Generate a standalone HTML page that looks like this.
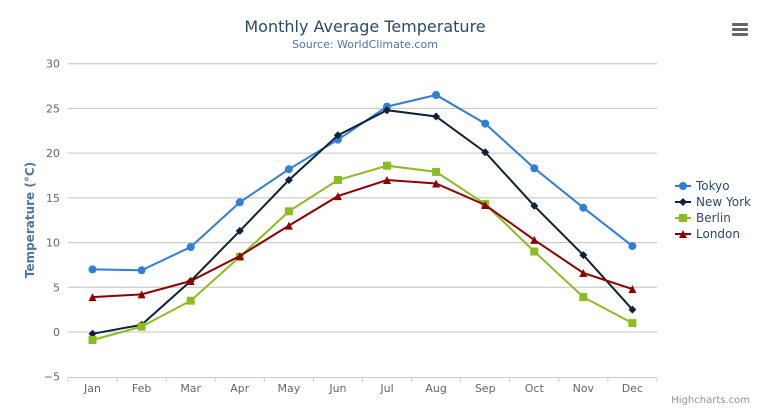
<!DOCTYPE html>
<html><head><meta charset="utf-8"><style>
html,body{margin:0;padding:0;background:#fff;}
svg{display:block;font-family:"DejaVu Sans","Liberation Sans",sans-serif;}
</style></head><body>
<svg id="c" width="769" height="416" xmlns="http://www.w3.org/2000/svg">
<text x="365" y="32" text-anchor="middle" font-size="16" fill="#274b6d">Monthly Average Temperature</text>
<text x="365" y="48" text-anchor="middle" font-size="11" fill="#4d759e">Source: WorldClimate.com</text>
<text transform="translate(34,220) rotate(-90)" text-anchor="middle" font-size="12" font-weight="bold" fill="#4d759e">Temperature (°C)</text>
<text x="750" y="403" text-anchor="end" font-size="10" fill="#909090">Highcharts.com</text>
<g fill="#666"><rect x="732" y="23" width="16" height="3" rx="1"/><rect x="732" y="28" width="16" height="3" rx="1"/><rect x="732" y="33" width="16" height="3" rx="1"/></g>
<g id="g"></g>
</svg>
<script>
var g=document.getElementById('g'),s='';
function Y(v){return 332-v*8.943;}
function X(i){return 68+49.08*(i+0.5);}
for(var v=-5;v<=30;v+=5){var y=Y(v).toFixed(1);
 if(v>-5)s+='<line x1="68" x2="657" y1="'+y+'" y2="'+y+'" stroke="#C0C0C0" stroke-width="1"/>';
 s+='<text x="60" y="'+(+y+4)+'" text-anchor="end" font-size="11" fill="#666">'+(v<0?'−5':v)+'</text>';}
s+='<line x1="68" x2="657" y1="377.5" y2="377.5" stroke="#C0D0E0"/>';
var m=['Jan','Feb','Mar','Apr','May','Jun','Jul','Aug','Sep','Oct','Nov','Dec'];
for(var i=0;i<=12;i++){var x=(68+49.08*i).toFixed(1);s+='<line x1="'+x+'" x2="'+x+'" y1="377" y2="382" stroke="#C0D0E0"/>';}
for(var i=0;i<12;i++)s+='<text x="'+X(i)+'" y="392" text-anchor="middle" font-size="11" fill="#666">'+m[i]+'</text>';
var D=[['Tokyo','#2f7ed8','c',[7.0,6.9,9.5,14.5,18.2,21.5,25.2,26.5,23.3,18.3,13.9,9.6]],
['New York','#0d233a','d',[-0.2,0.8,5.7,11.3,17.0,22.0,24.8,24.1,20.1,14.1,8.6,2.5]],
['Berlin','#8bbc21','s',[-0.9,0.6,3.5,8.4,13.5,17.0,18.6,17.9,14.3,9.0,3.9,1.0]],
['London','#910000','t',[3.9,4.2,5.7,8.5,11.9,15.2,17.0,16.6,14.2,10.3,6.6,4.8]]];
function mk(t,x,y,c){if(t=='c')return '<circle cx="'+x+'" cy="'+y+'" r="4" fill="'+c+'"/>';
 if(t=='d')return '<path d="M'+x+' '+(y-4)+'L'+(x+4)+' '+y+'L'+x+' '+(y+4)+'L'+(x-4)+' '+y+'Z" fill="'+c+'"/>';
 if(t=='s')return '<rect x="'+(x-4)+'" y="'+(y-4)+'" width="8" height="8" fill="'+c+'"/>';
 return '<path d="M'+x+' '+(y-4)+'L'+(x+4)+' '+(y+4)+'L'+(x-4)+' '+(y+4)+'Z" fill="'+c+'"/>';}
D.forEach(function(d,k){var p=d[3].map(function(v,i){return X(i).toFixed(1)+','+Y(v).toFixed(1);}).join(' ');
 s+='<polyline points="'+p+'" fill="none" stroke="'+d[1]+'" stroke-width="2"/>';
 d[3].forEach(function(v,i){s+=mk(d[2],+X(i).toFixed(1),+Y(v).toFixed(1),d[1]);});
 var ly=186+k*16;s+='<line x1="675" x2="691" y1="'+ly+'" y2="'+ly+'" stroke="'+d[1]+'" stroke-width="2"/>'+mk(d[2],683,ly,d[1]);
 s+='<text x="696" y="'+(ly+4)+'" font-size="12" fill="#274b6d">'+d[0]+'</text>';});
g.innerHTML=s;
</script>
</body></html>
